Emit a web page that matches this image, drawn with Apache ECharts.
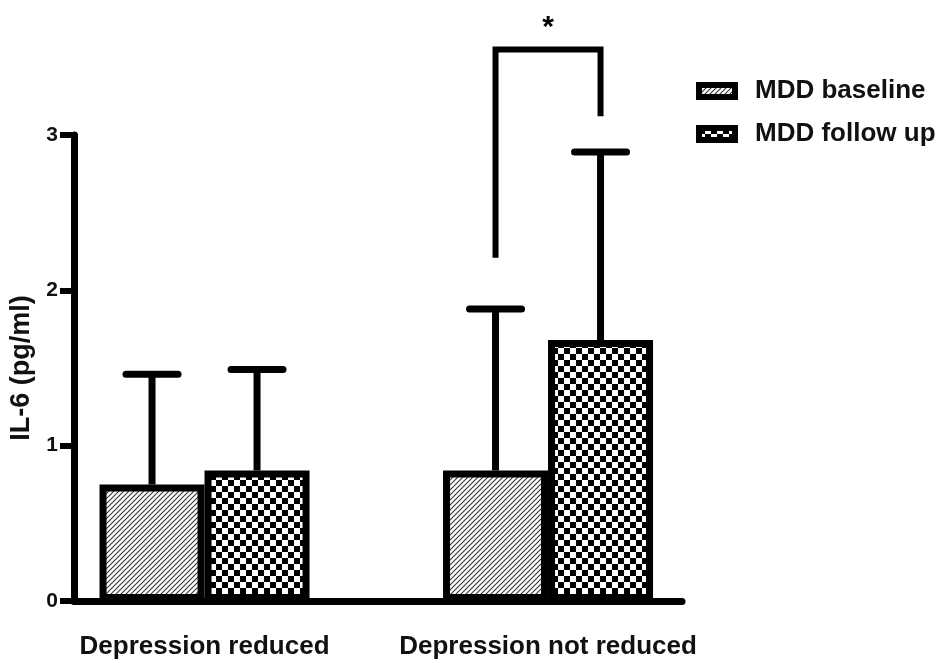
<!DOCTYPE html>
<html>
<head>
<meta charset="utf-8">
<title>IL-6 by depression outcome</title>
<script src="https://cdn.jsdelivr.net/npm/echarts@6/dist/echarts.min.js"></script>
<style>
  html, body { margin: 0; padding: 0; background: #fff; }
  #chart { width: 941px; height: 663px; }
</style>
</head>
<body>
<div id="chart"></div>
<script>
// Groups and measurements (IL-6, pg/ml): mean and SD per visit
const categories = ['Depression reduced', 'Depression not reduced'];
const seriesNames = ['MDD baseline', 'MDD follow up'];
const baselineMean = [0.75, 0.84];
const baselineSD = [0.71, 1.04];
const followUpMean = [0.84, 1.68];
const followUpSD = [0.65, 1.21];
const yTicks = [0, 1, 2, 3];
// Significance bracket over the second group: left foot, top, right foot
const bracketGroup = 1;
const bracketLevels = [2.21, 3.55, 3.12];
const bracketMark = '*';

const FONT = "'Liberation Sans', Arial, Helvetica, sans-serif";
const BAR_W = 105;     // px per bar
const CAP_LEN = 52;    // px, error-bar cap (plus round ends)
const LINE_W = 7;

// Fill patterns: diagonal hatch and checkerboard
function hatchTile() {
  const s = 5;
  const c = document.createElement('canvas');
  c.width = c.height = s;
  const g = c.getContext('2d');
  g.fillStyle = '#fff';
  g.fillRect(0, 0, s, s);
  g.strokeStyle = '#333';
  g.lineWidth = 1.1;
  g.beginPath();
  g.moveTo(-1, s + 1); g.lineTo(s + 1, -1);
  g.moveTo(-1, 1); g.lineTo(1, -1);
  g.moveTo(s - 1, s + 1); g.lineTo(s + 1, s - 1);
  g.stroke();
  return c;
}
function checkerTile() {
  const q = 6;
  const c = document.createElement('canvas');
  c.width = c.height = q * 2;
  const g = c.getContext('2d');
  g.fillStyle = '#fff';
  g.fillRect(0, 0, q * 2, q * 2);
  g.fillStyle = '#000';
  g.fillRect(0, 0, q, q);
  g.fillRect(q, q, q, q);
  return c;
}
const hatchFill = { image: hatchTile(), repeat: 'repeat' };
const checkerFill = { image: checkerTile(), repeat: 'repeat' };

function pairs(means) { return means.map((v, i) => [i, v]); }
function errRows(means, sds) { return means.map((v, i) => [i, v, sds[i]]); }

// Upper error bar (whisker + cap), shifted to the bar's side of the group
function errorBar(side) {
  return function (params, api) {
    const x = api.coord([api.value(0), 0])[0] + side * BAR_W / 2;
    const yBase = api.coord([0, api.value(1)])[1];
    const yTop = api.coord([0, api.value(1) + api.value(2)])[1];
    return {
      type: 'group',
      children: [
        { type: 'line', shape: { x1: x, y1: yBase, x2: x, y2: yTop },
          style: { stroke: '#000', lineWidth: LINE_W } },
        { type: 'line', shape: { x1: x - CAP_LEN / 2, y1: yTop, x2: x + CAP_LEN / 2, y2: yTop },
          style: { stroke: '#000', lineWidth: LINE_W, lineCap: 'round' } }
      ]
    };
  };
}

function bracket(params, api) {
  const xc = api.coord([api.value(0), 0])[0];
  const xL = xc - BAR_W / 2, xR = xc + BAR_W / 2;
  const yL = api.coord([0, api.value(1)])[1];
  const yT = api.coord([0, api.value(2)])[1];
  const yR = api.coord([0, api.value(3)])[1];
  return {
    type: 'group',
    children: [
      { type: 'polyline', shape: { points: [[xL, yL], [xL, yT], [xR, yT], [xR, yR]] },
        style: { stroke: '#000', lineWidth: 6, fill: 'none', lineJoin: 'miter' } },
      { type: 'text', x: xc, y: yT - 22,
        style: { text: bracketMark, fill: '#000', font: 'bold 30px ' + FONT,
                 align: 'center', verticalAlign: 'middle' } }
    ]
  };
}

const chart = echarts.init(document.getElementById('chart'), null, { renderer: 'canvas' });
chart.setOption({
  animation: false,
  backgroundColor: '#fff',
  textStyle: { fontFamily: FONT },
  grid: { left: 74, right: 259, top: 135, bottom: 62, containLabel: false, outerBoundsMode: 'none' },
  legend: {
    orient: 'vertical',
    left: 696,
    top: 78,
    padding: 0,
    itemGap: 17,
    itemWidth: 36,
    itemHeight: 12,
    icon: 'rect',
    selectedMode: false,
    data: seriesNames,
    itemStyle: { borderColor: '#000', borderWidth: 6 },
    textStyle: { fontSize: 26, fontWeight: 'bold', color: '#111', fontFamily: FONT, padding: [0, 0, 0, 15] }
  },
  xAxis: {
    type: 'value',
    min: -0.38,
    max: 1.39,
    splitLine: { show: false },
    axisTick: { show: false },
    axisLine: { show: true, onZero: false, lineStyle: { color: '#000', width: LINE_W } },
    axisLabel: {
      customValues: [0, 1],
      formatter: v => categories[Math.round(v)],
      fontSize: 26, fontWeight: 'bold', color: '#111', margin: 33, fontFamily: FONT
    }
  },
  yAxis: {
    type: 'value',
    min: yTicks[0],
    max: yTicks[yTicks.length - 1],
    interval: 1,
    name: 'IL-6 (pg/ml)',
    nameLocation: 'middle',
    nameGap: 38,
    nameTextStyle: { fontSize: 27, fontWeight: 'bold', color: '#111', fontFamily: FONT },
    splitLine: { show: false },
    axisLine: { show: true, onZero: false, lineStyle: { color: '#000', width: LINE_W } },
    axisTick: { show: true, length: 14, lineStyle: { color: '#000', width: 6 } },
    axisLabel: { fontSize: 21, fontWeight: 'bold', color: '#111', margin: 16, fontFamily: FONT }
  },
  series: [
    {
      name: seriesNames[0], type: 'bar', barWidth: BAR_W, barGap: '0%',
      data: pairs(baselineMean),
      itemStyle: { color: hatchFill, borderColor: '#000', borderWidth: LINE_W },
      silent: true
    },
    {
      name: seriesNames[1], type: 'bar', barWidth: BAR_W, barGap: '0%',
      data: pairs(followUpMean),
      itemStyle: { color: checkerFill, borderColor: '#000', borderWidth: LINE_W },
      silent: true
    },
    {
      name: 'baseline SD', type: 'custom', renderItem: errorBar(-1),
      data: errRows(baselineMean, baselineSD), encode: { x: 0, y: 1 }, z: 3, silent: true
    },
    {
      name: 'follow up SD', type: 'custom', renderItem: errorBar(1),
      data: errRows(followUpMean, followUpSD), encode: { x: 0, y: 1 }, z: 3, silent: true
    },
    {
      name: 'significance', type: 'custom', renderItem: bracket, clip: false,
      data: [[bracketGroup].concat(bracketLevels)], encode: { x: 0, y: 1 }, z: 3, silent: true
    }
  ]
});
</script>
</body>
</html>
